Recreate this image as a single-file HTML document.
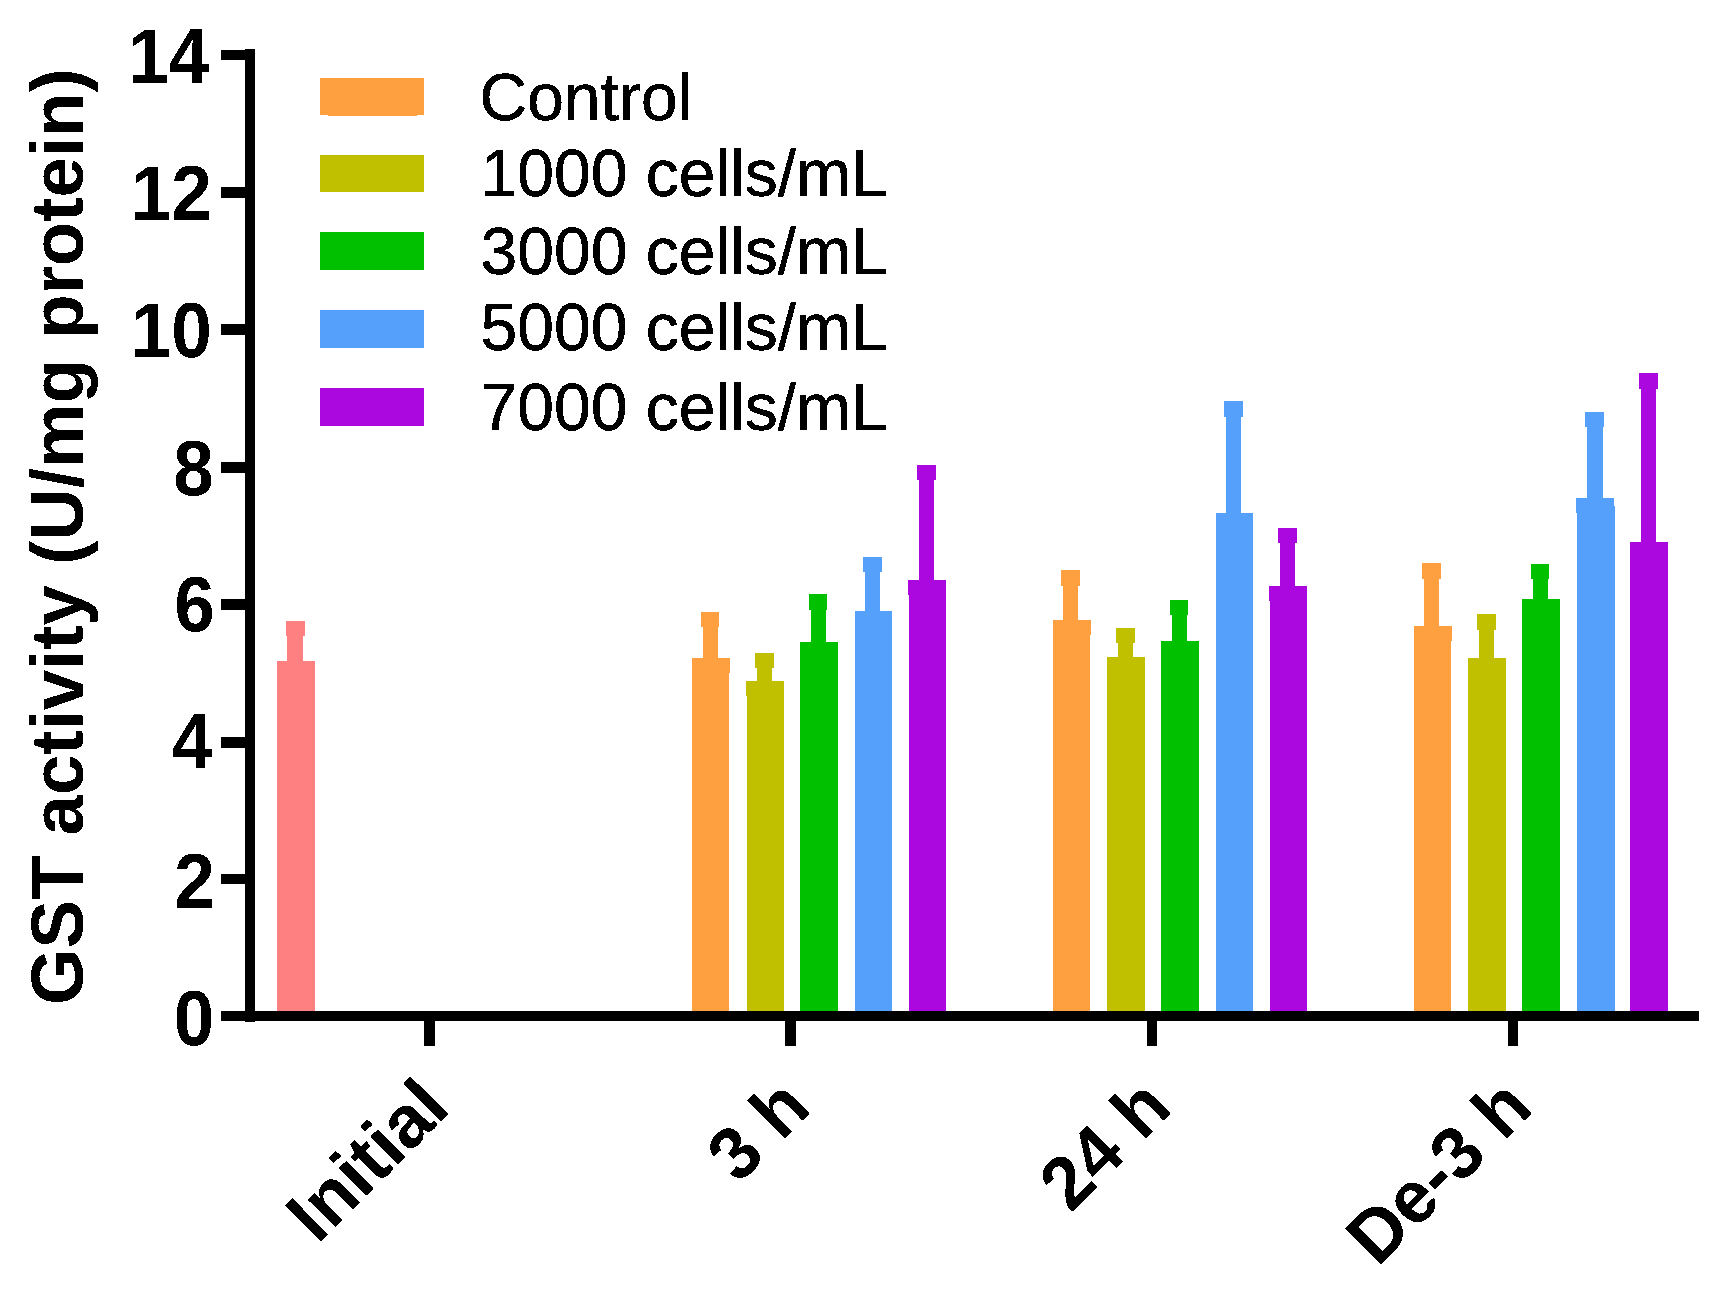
<!DOCTYPE html>
<html lang="en"><head><meta charset="utf-8"><title>GST activity</title>
<style>
html,body{margin:0;padding:0;background:#fff;}
body{width:1721px;height:1290px;overflow:hidden;}
svg{display:block;}
.t{font-family:"Liberation Sans",Arial,Helvetica,sans-serif;fill:#000;}
.b{font-weight:bold;}
</style></head><body>
<svg width="1721" height="1290" viewBox="0 0 1721 1290">
<defs><filter id="th" x="0" y="0" width="1721" height="1290" filterUnits="userSpaceOnUse" color-interpolation-filters="sRGB"><feComponentTransfer><feFuncA type="discrete" tableValues="0 1"/></feComponentTransfer></filter></defs>
<rect width="1721" height="1290" fill="#fff"/>
<g shape-rendering="crispEdges">
<g fill="#FF8080">
<rect x="277" y="661" width="38" height="355" fill="#FF8080"/>
<rect x="287" y="621" width="16" height="41" fill="#FF8080"/>
<rect x="286" y="621" width="19" height="15" fill="#FF8080"/>
</g>
<g fill="#FFA040">
<rect x="692" y="658" width="37" height="358" fill="#FFA040"/>
<rect x="729" y="658" width="1" height="15" fill="#FFA040"/>
<rect x="703" y="612" width="15" height="47" fill="#FFA040"/>
<rect x="701" y="612" width="18" height="15" fill="#FFA040"/>
</g>
<g fill="#C0C000">
<rect x="747" y="681" width="37" height="335" fill="#C0C000"/>
<rect x="746" y="681" width="1" height="15" fill="#C0C000"/>
<rect x="757" y="653" width="15" height="29" fill="#C0C000"/>
<rect x="755" y="653" width="19" height="15" fill="#C0C000"/>
</g>
<g fill="#00C000">
<rect x="800" y="642" width="38" height="374" fill="#00C000"/>
<rect x="811" y="594" width="15" height="49" fill="#00C000"/>
<rect x="809" y="594" width="18" height="16" fill="#00C000"/>
</g>
<g fill="#55A0FB">
<rect x="855" y="611" width="37" height="405" fill="#55A0FB"/>
<rect x="865" y="557" width="15" height="55" fill="#55A0FB"/>
<rect x="863" y="557" width="19" height="15" fill="#55A0FB"/>
</g>
<g fill="#AB08E0">
<rect x="909" y="580" width="37" height="436" fill="#AB08E0"/>
<rect x="908" y="580" width="1" height="15" fill="#AB08E0"/>
<rect x="919" y="465" width="15" height="116" fill="#AB08E0"/>
<rect x="917" y="465" width="19" height="15" fill="#AB08E0"/>
</g>
<g fill="#FFA040">
<rect x="1053" y="620" width="37" height="396" fill="#FFA040"/>
<rect x="1090" y="620" width="1" height="15" fill="#FFA040"/>
<rect x="1063" y="570" width="15" height="51" fill="#FFA040"/>
<rect x="1061" y="570" width="19" height="16" fill="#FFA040"/>
</g>
<g fill="#C0C000">
<rect x="1107" y="657" width="38" height="359" fill="#C0C000"/>
<rect x="1118" y="628" width="15" height="30" fill="#C0C000"/>
<rect x="1116" y="628" width="19" height="15" fill="#C0C000"/>
</g>
<g fill="#00C000">
<rect x="1161" y="641" width="38" height="375" fill="#00C000"/>
<rect x="1172" y="600" width="15" height="42" fill="#00C000"/>
<rect x="1170" y="600" width="18" height="15" fill="#00C000"/>
</g>
<g fill="#55A0FB">
<rect x="1216" y="513" width="37" height="503" fill="#55A0FB"/>
<rect x="1226" y="401" width="15" height="113" fill="#55A0FB"/>
<rect x="1224" y="401" width="19" height="16" fill="#55A0FB"/>
</g>
<g fill="#AB08E0">
<rect x="1270" y="586" width="37" height="430" fill="#AB08E0"/>
<rect x="1269" y="586" width="1" height="15" fill="#AB08E0"/>
<rect x="1280" y="528" width="15" height="59" fill="#AB08E0"/>
<rect x="1278" y="528" width="19" height="15" fill="#AB08E0"/>
</g>
<g fill="#FFA040">
<rect x="1414" y="626" width="37" height="390" fill="#FFA040"/>
<rect x="1451" y="626" width="1" height="15" fill="#FFA040"/>
<rect x="1424" y="563" width="15" height="64" fill="#FFA040"/>
<rect x="1422" y="563" width="19" height="16" fill="#FFA040"/>
</g>
<g fill="#C0C000">
<rect x="1468" y="658" width="38" height="358" fill="#C0C000"/>
<rect x="1479" y="614" width="15" height="45" fill="#C0C000"/>
<rect x="1477" y="614" width="19" height="16" fill="#C0C000"/>
</g>
<g fill="#00C000">
<rect x="1522" y="599" width="38" height="417" fill="#00C000"/>
<rect x="1533" y="564" width="15" height="36" fill="#00C000"/>
<rect x="1531" y="564" width="18" height="15" fill="#00C000"/>
</g>
<g fill="#55A0FB">
<rect x="1577" y="498" width="37" height="518" fill="#55A0FB"/>
<rect x="1614" y="506" width="1" height="510" fill="#55A0FB"/>
<rect x="1576" y="498" width="1" height="15" fill="#55A0FB"/>
<rect x="1587" y="412" width="16" height="87" fill="#55A0FB"/>
<rect x="1585" y="412" width="19" height="15" fill="#55A0FB"/>
</g>
<g fill="#AB08E0">
<rect x="1630" y="542" width="38" height="474" fill="#AB08E0"/>
<rect x="1641" y="373" width="15" height="170" fill="#AB08E0"/>
<rect x="1639" y="373" width="19" height="16" fill="#AB08E0"/>
</g>
</g>
<g shape-rendering="crispEdges" filter="url(#th)">
<rect x="320" y="78" width="104" height="37" fill="#FFA040"/>
<text x="479.5" y="120" font-size="66" class="t" stroke="#000" stroke-width="0.5">Control</text>
<rect x="320" y="155" width="104" height="37" fill="#C0C000"/>
<text x="480.6" y="196" font-size="66" class="t" stroke="#000" stroke-width="0.5">1000 cells/mL</text>
<rect x="320" y="232" width="104" height="38" fill="#00C000"/>
<text x="480.6" y="274" font-size="66" class="t" stroke="#000" stroke-width="0.5">3000 cells/mL</text>
<rect x="320" y="310" width="104" height="38" fill="#55A0FB"/>
<text x="480.6" y="350" font-size="66" class="t" stroke="#000" stroke-width="0.5">5000 cells/mL</text>
<rect x="320" y="388" width="104" height="38" fill="#AB08E0"/>
<text x="480.6" y="430" font-size="66" class="t" stroke="#000" stroke-width="0.5">7000 cells/mL</text>
<rect x="328" y="115" width="89" height="1" fill="#FFA040"/>
</g>
<g shape-rendering="crispEdges" filter="url(#th)">
<rect x="245" y="49" width="10" height="973" fill="#000"/>
<rect x="221" y="1011" width="1478" height="10" fill="#000"/>
<text transform="translate(214.2,1045.1) scale(0.985,1.04)" font-size="74" text-anchor="end" class="t b">0</text>
<rect x="221" y="874" width="25" height="10" fill="#000"/>
<text transform="translate(214.7,907.7) scale(0.985,1.04)" font-size="74" text-anchor="end" class="t b">2</text>
<rect x="221" y="737" width="25" height="11" fill="#000"/>
<text transform="translate(212.2,768.1) scale(0.985,1.04)" font-size="74" text-anchor="end" class="t b">4</text>
<rect x="221" y="599" width="25" height="11" fill="#000"/>
<text transform="translate(214.7,631.2) scale(0.985,1.04)" font-size="74" text-anchor="end" class="t b">6</text>
<rect x="221" y="462" width="25" height="11" fill="#000"/>
<text transform="translate(213.9,495.1) scale(0.985,1.04)" font-size="74" text-anchor="end" class="t b">8</text>
<rect x="221" y="324" width="25" height="11" fill="#000"/>
<text transform="translate(211.7,356.7) scale(0.985,1.04)" font-size="74" text-anchor="end" class="t b">10</text>
<rect x="221" y="187" width="25" height="11" fill="#000"/>
<text transform="translate(211.7,220) scale(0.985,1.04)" font-size="74" text-anchor="end" class="t b">12</text>
<rect x="221" y="50" width="25" height="10" fill="#000"/>
<text transform="translate(209,82.8) scale(0.985,1.04)" font-size="74" text-anchor="end" class="t b">14</text>
<rect x="424" y="1016" width="11" height="30" fill="#000"/>
<text transform="translate(451.9,1110.5) rotate(-45) scale(0.985,1)" font-size="74" text-anchor="end" class="t b">Initial</text>
<rect x="785" y="1016" width="11" height="30" fill="#000"/>
<text transform="translate(812.9,1110.5) rotate(-45) scale(0.985,1)" font-size="74" text-anchor="end" class="t b">3 h</text>
<rect x="1147" y="1016" width="10" height="30" fill="#000"/>
<text transform="translate(1173.9,1110.5) rotate(-45) scale(0.985,1)" font-size="74" text-anchor="end" class="t b">24 h</text>
<rect x="1508" y="1016" width="10" height="30" fill="#000"/>
<text transform="translate(1534.9,1110.5) rotate(-45) scale(0.985,1)" font-size="74" text-anchor="end" class="t b">De-3 h</text>
<text transform="translate(82.9,1005) rotate(-90) scale(0.982,1)" font-size="74" class="t b">GST activity (U/mg protein)</text>
</g>
</svg>
</body></html>
